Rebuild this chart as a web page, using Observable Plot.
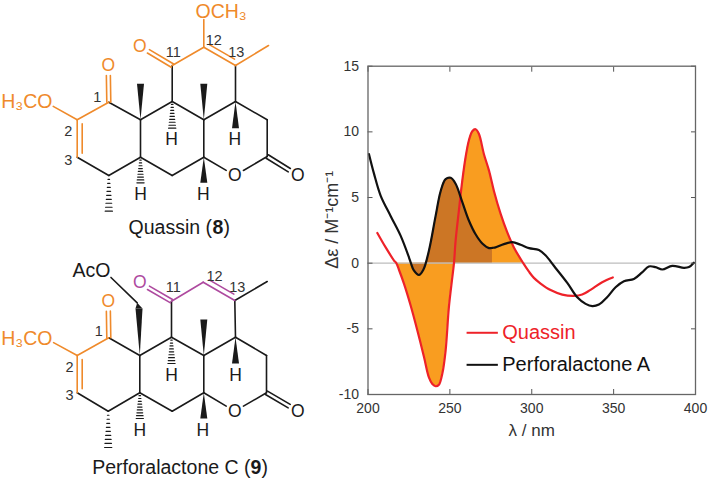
<!DOCTYPE html>
<html><head><meta charset="utf-8">
<script src="https://cdn.jsdelivr.net/npm/d3@7"></script>
<script src="https://cdn.jsdelivr.net/npm/@observablehq/plot@0.6"></script>
<style>html,body{margin:0;padding:0;background:#fff}#wrap{position:relative;width:709px;height:480px;overflow:hidden}#wrap svg{position:absolute;left:0;top:0;background:transparent}</style>
</head><body><div id="wrap"></div>
<script>
// ---- CD spectra (wavelength nm, delta-epsilon) ----
const quassinX = [205.7,210.8,215.9,217.3,218.9,222,226,230.1,234.2,237.2,239.3,241.3,243.3,245.4,247.4,249.4,251.5,252.5,253.5,255.5,257.6,259.6,261.6,263.7,265.7,267.7,270.8,273.9,276.9,281,285,289.1,294.8,298.3,301.3,305.4,311.5,318.6,325.7,330.8,335.9,343,349.5];
const quassinY = [2.3,1.2,0.2,0,-0.5,-1.57,-3.2,-5.1,-7.15,-8.7,-9.2,-9.37,-9.26,-8.4,-6.65,-3.35,-1.07,0,1.7,4.0,6.3,8.07,9.34,10.05,10.2,9.85,8.3,7.05,5.5,3.75,2.36,1.2,0,-0.65,-1.12,-1.55,-2.05,-2.39,-2.49,-2.39,-2.03,-1.45,-1.09];
const perforaX = [200.6,203.7,207.7,213.8,219.9,225,226.2,228,231.1,233.8,237.2,241.3,244.4,247.4,250.5,253.5,257.6,261.6,265.7,269.8,273.9,276,277.9,283,288.1,293.2,298.3,304.4,308.4,313.5,321.7,327.8,332.9,337,341,346,351.2,356.3,362.4,367.4,371.5,375.6,379.7,385.8,392.9,396,399];
const perforaY = [8.3,6.8,5.15,3.6,2.1,0.45,0,-0.55,-0.9,-0.5,0.95,3.6,5.5,6.4,6.5,6.05,4.65,3.25,2.2,1.5,1.15,1.17,1.2,1.45,1.6,1.4,1.15,1.0,0.6,-0.2,-1.5,-2.6,-3.1,-3.27,-3.15,-2.6,-1.83,-1.37,-1.2,-0.7,-0.25,-0.3,-0.48,-0.2,-0.35,-0.3,0.03];
const xTicks = [200,250,300,350,400];
const yTicks = [-10,-5,0,5,10,15];
const legendNames = ["Quassin","Perforalactone A"];
const legendColors = ["#EE2229","#111111"];
const legendY = [-5.3,-7.74];

const quassin = quassinX.map((x,i)=>({x,y:quassinY[i]}));
const perfora = perforaX.map((x,i)=>({x,y:perforaY[i]}));
const font = "'Liberation Sans',Arial,sans-serif";
const curve = "catmull-rom";

const chart = Plot.plot({
  width:709,height:480,marginLeft:367.5,marginRight:14,marginTop:65.7,marginBottom:86,
  style:{fontFamily:font,background:"transparent"},
  x:{domain:[200,400]},y:{domain:[-10,15]},
  marks:[
    Plot.areaY(quassin.filter(d=>d.x>=217.3&&d.x<=294.8),{x:"x",y1:0,y2:"y",fill:"#F99D20",curve}),
    Plot.areaY(perfora.filter(d=>d.x>=226.2&&d.x<=276),{x:"x",y1:0,y2:"y",fill:"#CC7625",curve}),
    Plot.ruleY([0],{stroke:"#BDBDBD",strokeWidth:1.2}),
    Plot.line(quassin,{x:"x",y:"y",stroke:legendColors[0],strokeWidth:2.2,curve}),
    Plot.line(perfora,{x:"x",y:"y",stroke:legendColors[1],strokeWidth:2.2,curve}),
    Plot.axisX({anchor:"bottom",ticks:xTicks,tickSize:-5,tickPadding:14,stroke:"#555",fill:"#333",fontSize:14,tickFormat:d=>String(d),label:null}),
    Plot.axisX({anchor:"top",ticks:xTicks,tickSize:-5,stroke:"#555",tickFormat:()=>"",label:null}),
    Plot.axisY({anchor:"left",ticks:yTicks,tickSize:-5,tickPadding:14,stroke:"#555",fill:"#333",fontSize:14,tickFormat:d=>String(d),label:null}),
    Plot.axisY({anchor:"right",ticks:yTicks,tickSize:-5,stroke:"#555",tickFormat:()=>"",label:null}),
    Plot.text(["Δε / M⁻¹cm⁻¹"],{x:()=>200,y:()=>3.3,dx:-36,rotate:-90,fontSize:18,fill:"#333"}),
    Plot.text(["λ / nm"],{x:()=>300,y:()=>-10,dy:36,fontSize:17,fill:"#333"}),
    Plot.frame({stroke:"#666",strokeWidth:1.3}),
    Plot.link(legendNames,{x1:()=>260.2,x2:()=>279.3,y1:(d,i)=>legendY[i],y2:(d,i)=>legendY[i],stroke:(d,i)=>legendColors[i],strokeWidth:2}),
    Plot.text(legendNames,{x:()=>282,y:(d,i)=>legendY[i],text:d=>d,textAnchor:"start",fontSize:20,fill:(d,i)=>legendColors[i]})
  ]
});
document.getElementById("wrap").appendChild(chart);

// ---- Structures: atoms of each skeleton, in the drawing's own units ----
const orange="#EF8A2B", purple="#AE4A9F", ink="#1a1a1a", numInk="#333";
const atoms8 = {C1:[108.3,101.7],C2:[76.7,119.3],C3:[76.7,156.7],C4:[108.3,175],C5:[140,156.7],C10:[140,119.3],C9:[171.7,101],C8:[203.3,119.3],C7:[203.3,156.7],C6:[171.7,175],C14:[235,101],C15:[266.7,119.3],C16:[266.7,156],Or:[234.3,175],Oc:[297.3,175],C11:[171.7,65],C12:[203.3,46.7],C13:[235,65],Me13:[268,45],O11:[139.3,45.7],O12:[203.3,9],O1:[107.7,65],O2:[44,101],Me10:[140,83.3],Me8:[203.3,83.3],H14:[235,127.7],H9:[171.7,127.7],H5:[140,182.3],H7:[203.3,182.3],Me4:[108.3,210.7]};
const atoms9 = {C1:[108.3,337.3],C2:[76.7,355],C3:[76.7,392.3],C4:[107.7,410.7],C5:[139.3,392.3],C10:[139.3,355],C9:[171,336.7],C8:[203.3,355],C7:[203.3,392.3],C6:[171.7,410.7],C14:[235,336.7],C15:[266,355],C16:[266,392.3],Or:[234.3,410.7],Oc:[297.3,410.7],C11:[171,300.7],C12:[202.7,281.7],C13:[234.3,300],Me13:[266.7,281],O11:[139.3,282.3],O1:[107.7,300.7],O2:[44.3,337.3],CH2:[138.5,308],CH2b:[136.7,302.3],OAc:[103.3,270],Me8:[203.3,319],H14:[235,363],H9:[171,363],H5:[139.3,418],H7:[203.3,418],Me4:[107.7,447]};

const skeleton = [["C3","C4"],["C4","C5"],["C5","C10"],["C1","C10"],["C10","C9"],["C9","C8"],["C8","C7"],["C7","C6"],["C6","C5"],["C8","C14"],["C14","C15"],["C15","C16"],["C16","Or"],["Or","C7"],["C9","C11"],["C13","C14"]];
const bonds8 = [...skeleton.map(b=>[...b,ink]),["C1","C2",orange],["C2","O2",orange],["C11","C12",orange],["C12","O12",orange],["C13","Me13",orange]];
const bonds9 = [...skeleton.map(b=>[...b,ink]),["C1","C2",orange],["C2","O2",orange],["C11","C12",purple],["C13","Me13",ink],["CH2b","OAc",ink]];
const doubles8 = [["C1","O1",orange,0],["C11","O11",orange,0],["C16","Oc",ink,0],["C2","C3",orange,1],["C12","C13",orange,1]];
const doubles9 = [["C1","O1",orange,0],["C11","O11",purple,0],["C16","Oc",ink,0],["C2","C3",orange,1],["C12","C13",purple,1]];
const wedges8 = [["C10","Me10"],["C8","Me8"],["C14","H14"],["C7","H7"]];
const wedges9 = [["C10","CH2"],["C8","Me8"],["C14","H14"],["C7","H7"]];
const hashes8 = [["C9","H9"],["C5","H5"],["C4","Me4"]];
const hashes9 = [["C9","H9"],["C5","H5"],["C4","Me4"]];

const atomsMid = [
 ["O",139.3,45.7,orange],["O",107.7,65,orange],
 ["H",171,139.3,ink],["H",234.3,139.3,ink],["H",140,194,ink],["H",202.7,194,ink],["O",234.3,175,ink],["O",297.3,175,ink],
 ["O",139.3,282.3,purple],["O",107.7,300.7,orange],
 ["H",171,375,ink],["H",235,375,ink],["H",139.3,430,ink],["H",202.3,430,ink],["O",234.3,410.7,ink],["O",297.3,410.7,ink]
];
const atomsEnd = [["H₃CO",52,101.7,orange],["H₃CO",52,338.3,orange],["AcO",110,270,ink]];
const atomsStart = [["OCH₃",195,11,orange]];
const numbers = [["1",96.7,96.7],["2",67.7,130.7],["3",67.7,160],["11",172.7,51.7],["12",213.3,40],["13",235.7,51.7],
 ["1",98.3,330.7],["2",69,366.7],["3",69,395],["11",172.7,286.7],["12",214,276],["13",236.7,287.3]];
const capLeft = [["Quassin (",211.5,227.7],["Perforalactone C (",250,467.7]];
const capBold = [["8",217.3,227.7],["9",255.5,467.7]];
const capRight = [[")",223,227.7],[")",261,467.7]];

// oxygen ends stop short of the letter
const clipO = name => name[0]==="O" ? 10 : 0;
function trimmed(atoms,a,b){
  const p=atoms[a],q=atoms[b],dx=q[0]-p[0],dy=q[1]-p[1],L=Math.hypot(dx,dy);
  const ta=clipO(a)/L, tb=clipO(b)/L;
  return {p:[p[0]+dx*ta,p[1]+dy*ta],q:[q[0]-dx*tb,q[1]-dy*tb]};
}
function segs(atoms,bonds,doubles,hashes){
  const out=[];
  for(const [a,b,c] of bonds) out.push({...trimmed(atoms,a,b),c});
  for(const [a,b,c,k] of doubles){
    const {p,q}=trimmed(atoms,a,b),dx=q[0]-p[0],dy=q[1]-p[1],L=Math.hypot(dx,dy),nx=-dy/L,ny=dx/L;
    if(k===0){
      out.push({p:[p[0]+nx*2,p[1]+ny*2],q:[q[0]+nx*2,q[1]+ny*2],c});
      out.push({p:[p[0]-nx*2,p[1]-ny*2],q:[q[0]-nx*2,q[1]-ny*2],c});
    } else {
      out.push({p,q,c});
      const s=-k*5,ux=dx/L*4,uy=dy/L*4;
      out.push({p:[p[0]+nx*s+ux,p[1]+ny*s+uy],q:[q[0]+nx*s-ux,q[1]+ny*s-uy],c});
    }
  }
  for(const [a,b] of hashes){
    const p=atoms[a],q=atoms[b],n=9;
    for(let i=1;i<=n;i++){const t=i/n,x=p[0]+(q[0]-p[0])*t,y=p[1]+(q[1]-p[1])*t,w=0.4+3.2*t;
      out.push({p:[x-w,y],q:[x+w,y],c:ink,h:1});}
  }
  return out;
}
function wedgePts(atoms,wedges,prefix){
  const out=[];
  wedges.forEach(([a,b],i)=>{
    const p=atoms[a],q=atoms[b],id=prefix+i;
    out.push({id,x:p[0],y:p[1]},{id,x:q[0]-3.5,y:q[1]},{id,x:q[0]+3.5,y:q[1]},{id,x:p[0],y:p[1]});
  });
  return out;
}
const allSegs=[...segs(atoms8,bonds8,doubles8,hashes8),...segs(atoms9,bonds9,doubles9,hashes9)];
const allWedges=[...wedgePts(atoms8,wedges8,"a"),...wedgePts(atoms9,wedges9,"b"),
  {id:"tip",x:atoms9.CH2[0]-3.5,y:atoms9.CH2[1]},{id:"tip",x:atoms9.CH2b[0],y:atoms9.CH2b[1]},{id:"tip",x:atoms9.CH2[0]+3.5,y:atoms9.CH2[1]}];

const tx = {x:d=>d[1],y:d=>d[2],text:d=>d[0]};
const panel = Plot.plot({
  width:340,height:480,margin:0,
  style:{fontFamily:font,background:"transparent"},
  x:{domain:[0,340],range:[0,340],axis:null},
  y:{domain:[0,480],range:[0,480],axis:null},
  marks:[
    Plot.line(allWedges,{x:"x",y:"y",z:"id",fill:ink,stroke:"none"}),
    Plot.link(allSegs,{x1:d=>d.p[0],y1:d=>d.p[1],x2:d=>d.q[0],y2:d=>d.q[1],stroke:d=>d.c,strokeWidth:d=>d.h?1.2:1.6,strokeLinecap:"round"}),
    Plot.text(atomsMid,{...tx,fontSize:17.5,fill:d=>d[3]}),
    Plot.text(atomsEnd,{...tx,fontSize:19.5,fill:d=>d[3],textAnchor:"end"}),
    Plot.text(atomsStart,{...tx,fontSize:19.5,fill:d=>d[3],textAnchor:"start"}),
    Plot.text(numbers,{...tx,fill:numInk,fontSize:14.5}),
    Plot.text(capLeft,{...tx,textAnchor:"end",fontSize:19.5,fill:ink}),
    Plot.text(capBold,{...tx,fontSize:19.5,fontWeight:"bold",fill:ink}),
    Plot.text(capRight,{...tx,textAnchor:"start",fontSize:19.5,fill:ink})
  ]
});
document.getElementById("wrap").appendChild(panel);
</script>
</body></html>
